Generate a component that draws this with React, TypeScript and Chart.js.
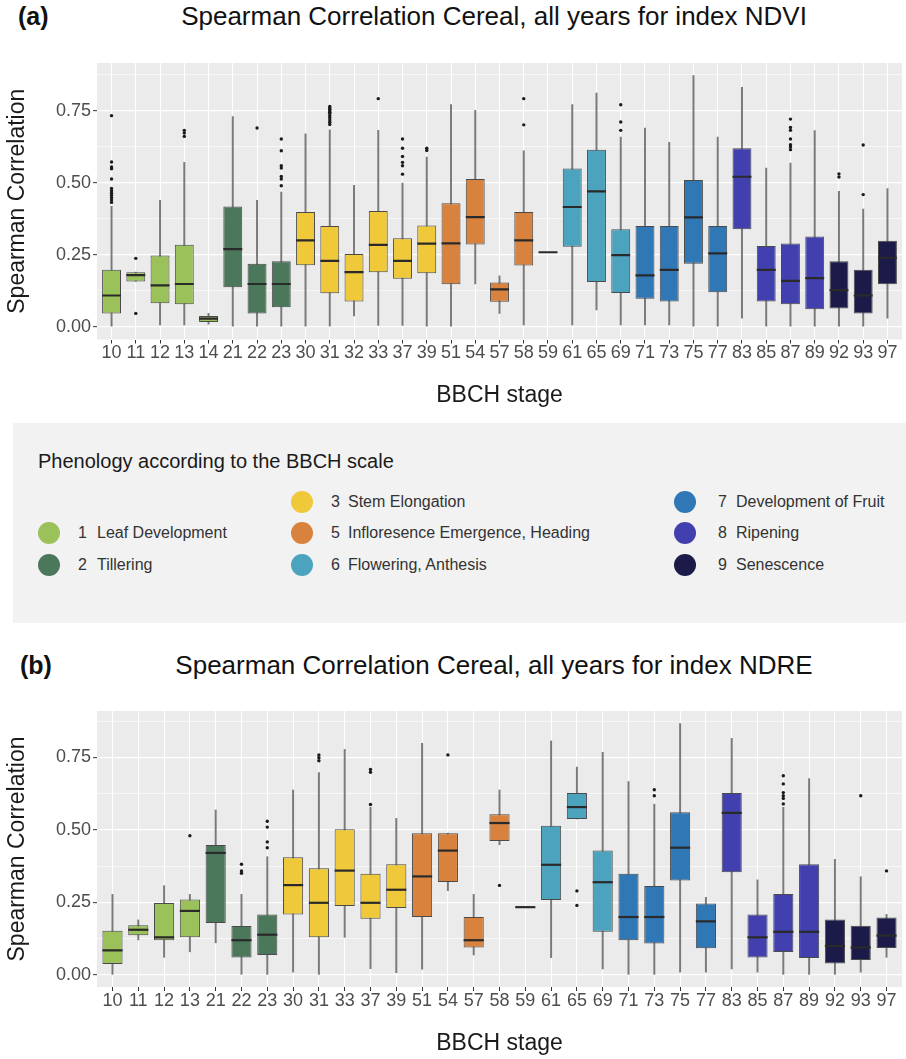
import React, { useEffect, useRef } from 'react';
import { Chart, registerables } from 'chart.js';

Chart.register(...registerables);

const FONT = '"Liberation Sans", Arial, Helvetica, sans-serif';

// Fill colour of each principal BBCH growth stage (first digit of the stage code)
const PHASE_COLORS: Record<string, string> = {
  '1': '#9BC15B',
  '2': '#4B775B',
  '3': '#EFC93A',
  '5': '#D8823D',
  '6': '#4CA3BE',
  '7': '#3077B6',
  '8': '#4240AE',
  '9': '#1B1A48',
};

const LEGEND_ITEMS = [
  { code: '1', name: 'Leaf Development' },
  { code: '2', name: 'Tillering' },
  { code: '3', name: 'Stem Elongation' },
  { code: '5', name: 'Infloresence Emergence, Heading' },
  { code: '6', name: 'Flowering, Anthesis' },
  { code: '7', name: 'Development of Fruit' },
  { code: '8', name: 'Ripening' },
  { code: '9', name: 'Senescence' },
];

const Y_TICKS = [0, 0.125, 0.25, 0.375, 0.5, 0.625, 0.75, 0.875];

// ---------- NDVI ----------
const ndviStages = ['10', '11', '12', '13', '14', '21', '22', '23', '30', '31', '32', '33', '37', '39', '51', '54', '57', '58', '59', '61', '65', '69', '71', '73', '75', '77', '83', '85', '87', '89', '92', '93', '97'];
const ndviLow = [0.0, 0.158, 0.007, 0.007, 0.01, 0.0, 0.0, 0.0, 0.0, 0.0, 0.038, 0.005, 0.005, 0.0, 0.0, 0.149, 0.047, 0.007, 0.259, 0.007, 0.059, 0.007, 0.007, 0.007, 0.0, 0.0, 0.03, 0.0, 0.0, 0.0, 0.0, 0.0, 0.03];
const ndviQ1 = [0.047, 0.158, 0.082, 0.079, 0.017, 0.138, 0.047, 0.068, 0.214, 0.117, 0.088, 0.19, 0.167, 0.186, 0.148, 0.286, 0.087, 0.213, 0.259, 0.278, 0.156, 0.118, 0.098, 0.088, 0.219, 0.12, 0.339, 0.088, 0.079, 0.061, 0.064, 0.047, 0.148];
const ndviMedian = [0.109, 0.18, 0.144, 0.149, 0.029, 0.27, 0.149, 0.149, 0.3, 0.229, 0.19, 0.285, 0.229, 0.289, 0.29, 0.381, 0.13, 0.3, 0.259, 0.416, 0.47, 0.249, 0.179, 0.198, 0.38, 0.255, 0.521, 0.198, 0.16, 0.169, 0.128, 0.109, 0.24];
const ndviQ3 = [0.198, 0.19, 0.248, 0.285, 0.038, 0.418, 0.219, 0.228, 0.399, 0.35, 0.253, 0.402, 0.308, 0.352, 0.429, 0.513, 0.154, 0.399, 0.259, 0.55, 0.615, 0.339, 0.35, 0.35, 0.51, 0.35, 0.62, 0.281, 0.289, 0.314, 0.228, 0.198, 0.299];
const ndviHigh = [0.418, 0.19, 0.439, 0.571, 0.047, 0.73, 0.439, 0.468, 0.67, 0.684, 0.491, 0.682, 0.499, 0.589, 0.771, 0.751, 0.177, 0.611, 0.259, 0.771, 0.811, 0.659, 0.69, 0.64, 0.872, 0.659, 0.831, 0.551, 0.568, 0.681, 0.47, 0.409, 0.48];
const ndviOutliers: number[][] = [
  [0.733, 0.572, 0.555, 0.549, 0.513, 0.48, 0.472, 0.464, 0.456, 0.448, 0.44, 0.432],
  [0.238, 0.047],
  [],
  [0.682, 0.673, 0.661],
  [],
  [],
  [0.69],
  [0.652, 0.611, 0.559, 0.551, 0.522, 0.513, 0.49],
  [],
  [0.765, 0.76, 0.755, 0.75, 0.745, 0.74, 0.733, 0.726, 0.718, 0.71, 0.702],
  [],
  [0.792],
  [0.652, 0.62, 0.591, 0.571, 0.559, 0.53],
  [0.62, 0.612],
  [],
  [],
  [],
  [0.792, 0.701],
  [],
  [],
  [],
  [0.771, 0.711, 0.682],
  [],
  [],
  [],
  [],
  [],
  [],
  [0.721, 0.692, 0.682, 0.652, 0.632, 0.624, 0.615],
  [],
  [0.531, 0.52],
  [0.631, 0.459],
  [],
];

// ---------- NDRE ----------
const ndreStages = ['10', '11', '12', '13', '21', '22', '23', '30', '31', '33', '37', '39', '51', '54', '57', '58', '59', '61', '65', '69', '71', '73', '75', '77', '83', '85', '87', '89', '92', '93', '97'];
const ndreLow = [0.0, 0.121, 0.061, 0.08, 0.111, 0.0, 0.0, 0.01, 0.0, 0.13, 0.022, 0.008, 0.02, 0.291, 0.069, 0.449, 0.234, 0.06, 0.538, 0.021, 0.0, 0.0, 0.01, 0.01, 0.021, 0.01, 0.0, 0.0, 0.0, 0.01, 0.061];
const ndreQ1 = [0.038, 0.137, 0.12, 0.13, 0.179, 0.06, 0.069, 0.209, 0.13, 0.238, 0.194, 0.231, 0.2, 0.321, 0.095, 0.462, 0.234, 0.259, 0.538, 0.149, 0.12, 0.109, 0.326, 0.092, 0.354, 0.06, 0.079, 0.059, 0.04, 0.052, 0.093];
const ndreMedian = [0.085, 0.156, 0.13, 0.221, 0.421, 0.12, 0.139, 0.31, 0.249, 0.36, 0.249, 0.294, 0.34, 0.429, 0.12, 0.524, 0.234, 0.38, 0.579, 0.32, 0.2, 0.2, 0.439, 0.185, 0.559, 0.13, 0.149, 0.149, 0.1, 0.095, 0.136];
const ndreQ3 = [0.153, 0.172, 0.248, 0.26, 0.448, 0.169, 0.209, 0.406, 0.368, 0.503, 0.349, 0.382, 0.489, 0.489, 0.2, 0.554, 0.234, 0.515, 0.628, 0.429, 0.349, 0.307, 0.561, 0.247, 0.628, 0.209, 0.279, 0.382, 0.191, 0.17, 0.198];
const ndreHigh = [0.278, 0.19, 0.308, 0.278, 0.569, 0.278, 0.408, 0.638, 0.698, 0.778, 0.578, 0.54, 0.799, 0.489, 0.278, 0.638, 0.234, 0.807, 0.717, 0.768, 0.667, 0.589, 0.867, 0.268, 0.816, 0.328, 0.578, 0.677, 0.399, 0.339, 0.209];
const ndreOutliers: number[][] = [
  [],
  [],
  [],
  [0.48],
  [],
  [0.382, 0.359, 0.351],
  [0.53, 0.51, 0.459, 0.439],
  [],
  [0.759, 0.749, 0.739],
  [],
  [0.709, 0.699, 0.588],
  [],
  [],
  [0.759],
  [],
  [0.309],
  [],
  [],
  [0.29, 0.24],
  [],
  [],
  [0.639, 0.618],
  [],
  [],
  [],
  [],
  [0.687, 0.659, 0.629, 0.618, 0.609, 0.59],
  [],
  [],
  [0.618],
  [0.359],
];

type BoxSeries = {
  stages: string[];
  low: number[];
  q1: number[];
  median: number[];
  q3: number[];
  high: number[];
  outliers: number[][];
};

const ndvi: BoxSeries = { stages: ndviStages, low: ndviLow, q1: ndviQ1, median: ndviMedian, q3: ndviQ3, high: ndviHigh, outliers: ndviOutliers };
const ndre: BoxSeries = { stages: ndreStages, low: ndreLow, q1: ndreQ1, median: ndreMedian, q3: ndreQ3, high: ndreHigh, outliers: ndreOutliers };

const BOX_FRACTION = 0.78;

// Grey panel behind the plotting area
const panelBackground = {
  id: 'panelBackground',
  beforeDraw(chart: any) {
    const { ctx, chartArea } = chart;
    if (!chartArea) return;
    ctx.save();
    ctx.fillStyle = '#EBEBEB';
    ctx.fillRect(chartArea.left, chartArea.top, chartArea.right - chartArea.left, chartArea.bottom - chartArea.top);
    ctx.restore();
  },
};

type PanelProps = {
  series: BoxSeries;
  yMin: number;
  yMax: number;
  top: number;
  height: number;
  padTop: number;
  xAxisHeight: number;
  xTitlePadBottom: number;
};

function BoxPanel({ series, yMin, yMax, top, height, padTop, xAxisHeight, xTitlePadBottom }: PanelProps) {
  const ref = useRef<HTMLCanvasElement>(null);

  useEffect(() => {
    if (!ref.current) return;
    const n = series.stages.length;
    const idx = series.stages.map((_, i) => i);
    const colors = series.stages.map((s) => PHASE_COLORS[s[0]]);
    const isMajor = (v: number) => Math.round(v * 8) % 2 === 0;

    const chart = new Chart(ref.current, {
      type: 'bar',
      data: {
        datasets: [
          {
            type: 'line',
            label: 'outliers',
            data: series.outliers.flatMap((vals, i) => vals.map((v) => ({ x: i, y: v }))),
            showLine: false,
            pointRadius: 1.7,
            pointBackgroundColor: '#1a1a1a',
            pointBorderWidth: 0,
            order: 1,
          } as any,
          {
            type: 'line',
            label: 'median',
            data: idx.map((i) => ({ x: i, y: series.median[i] })),
            showLine: false,
            pointStyle: 'line',
            pointRadius: (c: any) => {
              const xs = c.chart.scales.x;
              return ((xs.getPixelForValue(1) - xs.getPixelForValue(0)) * BOX_FRACTION) / 2;
            },
            pointBorderColor: '#2a2a2a',
            pointBorderWidth: 2.2,
            order: 2,
          } as any,
          {
            type: 'bar',
            label: 'box',
            data: idx.map((i) => ({ x: i, y: [series.q1[i], series.q3[i]] })),
            backgroundColor: colors,
            borderColor: '#4a4a4a',
            borderWidth: 1,
            borderSkipped: false,
            barPercentage: BOX_FRACTION,
            categoryPercentage: 1,
            grouped: false,
            order: 3,
          } as any,
          {
            type: 'bar',
            label: 'whisker',
            data: idx.map((i) => ({ x: i, y: [series.low[i], series.high[i]] })),
            backgroundColor: '#7a7a7a',
            barThickness: 1.3,
            grouped: false,
            order: 4,
          } as any,
        ],
      },
      options: {
        animation: false,
        responsive: false,
        devicePixelRatio: 1,
        layout: { padding: { top: padTop, left: 0, right: 4, bottom: 0 } },
        plugins: { legend: { display: false }, tooltip: { enabled: false }, title: { display: false } },
        scales: {
          x: {
            type: 'linear',
            min: -0.6,
            max: n - 0.4,
            offset: false,
            afterBuildTicks: (s: any) => {
              s.ticks = idx.map((v) => ({ value: v }));
            },
            afterFit: (s: any) => {
              s.height = xAxisHeight;
            },
            ticks: {
              autoSkip: false,
              maxRotation: 0,
              minRotation: 0,
              padding: 1,
              color: '#4D4D4D',
              font: { family: FONT, size: 18, lineHeight: 1 },
              callback: (v: any) => series.stages[Math.round(Number(v))] ?? '',
            },
            grid: {
              offset: false,
              color: '#FFFFFF',
              lineWidth: 1,
              drawTicks: true,
              tickLength: 4,
              tickColor: '#333333',
              tickWidth: 1,
            },
            border: { display: false },
            title: {
              display: true,
              text: 'BBCH stage',
              color: '#1a1a1a',
              font: { family: FONT, size: 23 },
              padding: { top: 0, bottom: xTitlePadBottom },
            },
          },
          y: {
            type: 'linear',
            min: yMin,
            max: yMax,
            afterBuildTicks: (s: any) => {
              s.ticks = Y_TICKS.map((v) => ({ value: v }));
            },
            afterFit: (s: any) => {
              s.width = 97;
            },
            ticks: {
              padding: 2,
              color: '#4D4D4D',
              font: { family: FONT, size: 18 },
              callback: (v: any) => (isMajor(Number(v)) ? Number(v).toFixed(2) : ''),
            },
            grid: {
              color: '#FFFFFF',
              lineWidth: (c: any) => (c.tick && isMajor(c.tick.value) ? 1.3 : 0.6),
              drawTicks: true,
              tickLength: 4,
              tickColor: (c: any) => (c.tick && isMajor(c.tick.value) ? '#333333' : 'rgba(0,0,0,0)'),
              tickWidth: 1,
            },
            border: { display: false },
            title: {
              display: true,
              text: 'Spearman Correlation',
              color: '#1a1a1a',
              font: { family: FONT, size: 23 },
              padding: { top: 4, bottom: 0 },
            },
          },
        },
      } as any,
      plugins: [panelBackground],
    });
    return () => chart.destroy();
  }, [series, yMin, yMax, padTop, xAxisHeight, xTitlePadBottom]);

  return (
    <canvas
      ref={ref}
      width={906}
      height={height}
      style={{ position: 'absolute', left: 0, top, width: 906, height }}
    />
  );
}

function PanelHeading({ tag, title, top, tagLeft }: { tag: string; title: string; top: number; tagLeft: number }) {
  return (
    <>
      <div style={{ position: 'absolute', left: tagLeft, top, fontSize: 25, lineHeight: '25px', fontWeight: 700, color: '#111' }}>{tag}</div>
      <div
        style={{
          position: 'absolute',
          left: 494,
          top: top - 1,
          transform: 'translateX(-50%)',
          whiteSpace: 'nowrap',
          fontSize: 26,
          lineHeight: '26px',
          color: '#111',
        }}
      >
        {title}
      </div>
    </>
  );
}

function LegendEntry({ code, name, cx, cy, numLeft, textLeft }: { code: string; name: string; cx: number; cy: number; numLeft: number; textLeft: number }) {
  return (
    <>
      <div
        style={{
          position: 'absolute',
          left: cx - 11,
          top: cy - 11,
          width: 22,
          height: 22,
          borderRadius: '50%',
          background: PHASE_COLORS[code],
        }}
      />
      <div style={{ position: 'absolute', left: numLeft, top: cy - 8, fontSize: 16, lineHeight: '16px', color: '#333' }}>{code}</div>
      <div style={{ position: 'absolute', left: textLeft, top: cy - 8, fontSize: 16, lineHeight: '16px', color: '#333', whiteSpace: 'nowrap' }}>{name}</div>
    </>
  );
}

function PhenologyLegend() {
  // Three columns of entries, placed the way the legend lays them out
  const columns = [
    { cx: 48.5, numLeft: 78, textLeft: 97, rows: [{ code: '1', cy: 533 }, { code: '2', cy: 565 }] },
    { cx: 302, numLeft: 331, textLeft: 348, rows: [{ code: '3', cy: 502 }, { code: '5', cy: 533 }, { code: '6', cy: 565 }] },
    { cx: 685, numLeft: 718, textLeft: 736, rows: [{ code: '7', cy: 502 }, { code: '8', cy: 533 }, { code: '9', cy: 565 }] },
  ];
  const nameOf = (code: string) => LEGEND_ITEMS.find((it) => it.code === code)!.name;
  return (
    <>
      <div style={{ position: 'absolute', left: 13, top: 423, width: 893, height: 200, background: '#F2F2F2' }} />
      <div style={{ position: 'absolute', left: 38, top: 451, fontSize: 20, lineHeight: '20px', color: '#1a1a1a', whiteSpace: 'nowrap' }}>
        Phenology according to the BBCH scale
      </div>
      {columns.map((col) =>
        col.rows.map((r) => (
          <LegendEntry key={r.code} code={r.code} name={nameOf(r.code)} cx={col.cx} cy={r.cy} numLeft={col.numLeft} textLeft={col.textLeft} />
        ))
      )}
    </>
  );
}

export default function App() {
  return (
    <div
      style={{
        position: 'absolute',
        left: 0,
        top: 0,
        width: 906,
        height: 1059,
        overflow: 'hidden',
        background: '#FFFFFF',
        fontFamily: FONT,
      }}
    >
      <PanelHeading tag="(a)" title="Spearman Correlation Cereal, all years for index NDVI" top={4} tagLeft={18} />
      <BoxPanel series={ndvi} yMin={-0.0436} yMax={0.9156} top={40} height={380} padTop={23} xAxisHeight={80.5} xTitlePadBottom={11} />
      <PhenologyLegend />
      <PanelHeading tag="(b)" title="Spearman Correlation Cereal, all years for index NDRE" top={653} tagLeft={20} />
      <BoxPanel series={ndre} yMin={-0.0413} yMax={0.9103} top={690} height={369} padTop={21} xAxisHeight={72} xTitlePadBottom={2} />
    </div>
  );
}
